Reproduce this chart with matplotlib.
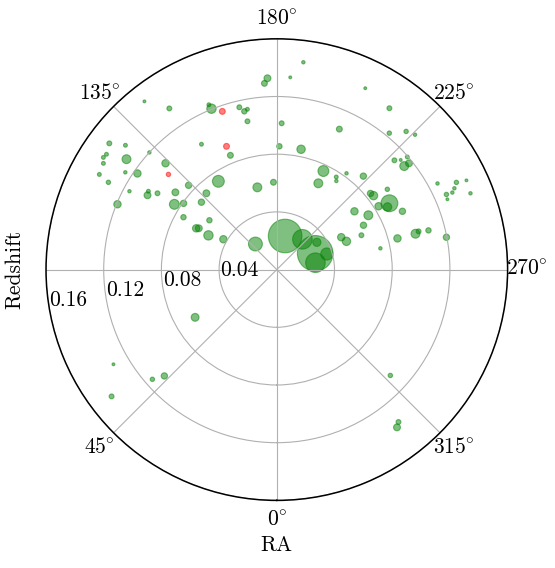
import numpy as np
import matplotlib
matplotlib.use('Agg')
import matplotlib.pyplot as plt

plt.rcParams['font.family'] = 'serif'
plt.rcParams['font.serif'] = ['cmr10']
plt.rcParams['mathtext.fontset'] = 'cm'
plt.rcParams['axes.formatter.use_mathtext'] = True
plt.rcParams['font.size'] = 15.5

# galaxies: right ascension (deg), redshift, marker area
ra = [141.8, 146.3, 157.9, 157.6, 167.0, 168.4, 169.6, 168.8, 177.2, 176.2,
      127.0, 129.4, 124.1, 122.9, 121.5, 126.3, 132.6, 149.0, 157.9, 118.2,
      122.7, 124.6, 133.7, 117.4, 118.0, 121.4, 119.9, 122.6, 133.7, 146.5,
      166.7, 177.8, 112.3, 127.3, 122.5, 125.4, 137.3, 131.8, 119.3, 117.1,
      117.9, 126.2, 116.6, 119.6, 140.1,
      187.3, 184.0, 206.0, 214.9, 181.9, 204.0, 219.5, 223.1, 225.7, 181.2,
      191.4, 227.1, 228.5, 229.2, 230.9, 231.2, 205.3, 205.7, 212.7, 213.9,
      215.9, 222.8, 241.8, 244.1, 244.8, 245.4, 246.3, 246.1, 247.6, 248.5,
      234.0, 230.9, 232.6, 239.5, 240.5, 238.1, 245.1, 233.1, 239.3, 242.9,
      247.9, 243.3, 247.9, 255.5, 255.5, 254.9, 255.5, 259.2, 258.4,
      193.9, 220.2, 235.7, 247.0, 252.7, 259.9,
      59.7, 59.9, 48.6, 46.6, 52.5, 313.0, 321.4, 322.7]
z = [0.1484, 0.1343, 0.1204, 0.1236, 0.1155, 0.1120, 0.1130, 0.1048, 0.1328, 0.1294,
     0.1454, 0.1358, 0.1426, 0.1432, 0.1410, 0.1293, 0.1200, 0.1014, 0.0855, 0.1396,
     0.1248, 0.1174, 0.1067, 0.1315, 0.1157, 0.1043, 0.1034, 0.0982, 0.0846, 0.0734,
     0.0586, 0.0606, 0.1194, 0.0884, 0.0842, 0.0793, 0.0720, 0.0701, 0.0742, 0.0628,
     0.0612, 0.0579, 0.0530, 0.0426, 0.0231,
     0.1449, 0.1336, 0.1399, 0.1364, 0.1015, 0.1066, 0.1226, 0.1312, 0.1339, 0.0855,
     0.0851, 0.1113, 0.1147, 0.1195, 0.1138, 0.1176, 0.0756, 0.0664, 0.0763, 0.0740,
     0.0824, 0.0883, 0.1264, 0.1384, 0.1453, 0.1354, 0.1329, 0.1286, 0.1279, 0.1443,
     0.0947, 0.0837, 0.0844, 0.0906, 0.0882, 0.0831, 0.0960, 0.0673, 0.0738, 0.0675,
     0.0633, 0.0500, 0.0521, 0.0864, 0.0993, 0.1018, 0.1086, 0.1197, 0.0733,
     0.0240, 0.0275, 0.0336, 0.0289, 0.0363, 0.0272,
     0.0656, 0.1309, 0.1150, 0.1073, 0.1444, 0.1076, 0.1352, 0.1375]
mass = [4.3, 12.4, 45.7, 7.8, 12.4, 15, 7.8, 12.4, 24.6, 18,
        12.4, 7.8, 7.8, 7.8, 7.8, 41, 6.0, 7.8, 18, 7.8,
        6.0, 28.3, 28.3, 10, 6.0, 7.8, 24.6, 12.4, 21, 73,
        41, 18, 28.3, 24.6, 50.7, 21, 24.6, 21, 15, 28.3,
        24.6, 15, 45.7, 28.3, 100,
        6.0, 4.3, 4.3, 12.4, 12.4, 18, 10, 10, 6.0, 15,
        36.5, 12.4, 4.3, 7.8, 41, 24.6, 61.5, 41, 7.8, 6.0,
        6.0, 21, 6.0, 10, 4.3, 6.0, 6.0, 10, 4.3, 6.0,
        10, 21, 36.5, 148, 36.5, 28.3, 21, 28.3, 41, 21,
        12.4, 28.3, 36.5, 28.3, 41, 12.4, 15, 21, 6.0,
        585, 199, 35, 657, 77, 199,
        32, 4.3, 10, 21, 12.4, 10, 12.4, 24.6]

# highlighted objects
ra_red = [161.0, 157.8, 131.3]
z_red = [0.1160, 0.0923, 0.1000]
mass_red = [18, 18, 10]

fig = plt.figure(figsize=(5.55, 5.68), dpi=100)
ax = fig.add_axes([0.0829, 0.119, 0.8317, 0.8127], projection='polar')
ax.set_theta_zero_location('S')
ax.set_theta_direction(-1)

ax.scatter(np.radians(ra), z, s=mass, c='green', alpha=0.5, linewidths=0.8)
ax.scatter(np.radians(ra_red), z_red, s=mass_red, c='red', alpha=0.5, linewidths=0.8)

ax.set_rlim(0, 0.16)
ax.set_rticks([0.04, 0.08, 0.12, 0.16])
ax.set_yticklabels(['0.04', '0.08', '0.12', '0.16'])
ax.set_rlabel_position(80)
angles = [0, 45, 90, 135, 180, 225, 270, 315]
labels = [r'$%d\!^\circ$' % a if a != 90 else '' for a in angles]
ax.set_thetagrids(angles, labels=labels)
ax.grid(color='#b0b0b0', linewidth=0.8)
ax.spines['polar'].set_linewidth(1.1)

ax.set_xlabel('RA')
ax.set_ylabel('Redshift')
ax.yaxis.set_label_coords(-0.046, 0.5)

fig.savefig('out.png', dpi=100)
